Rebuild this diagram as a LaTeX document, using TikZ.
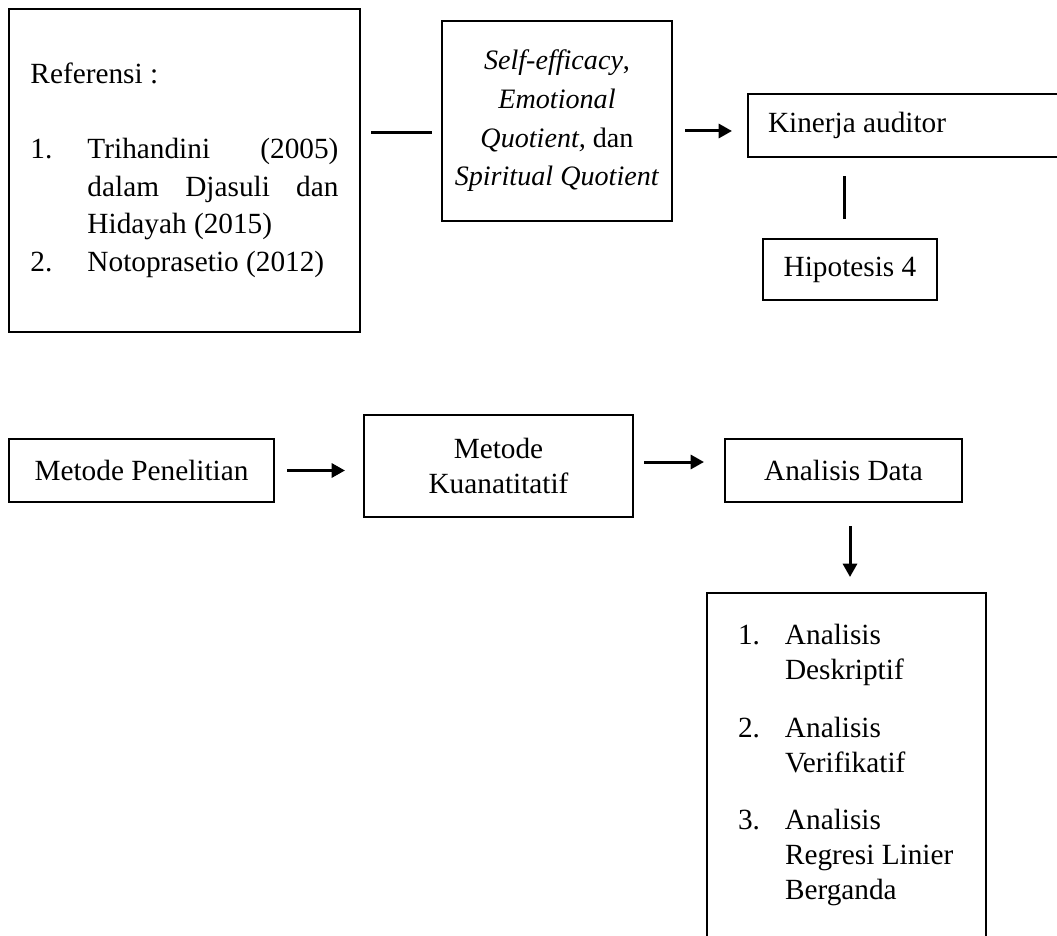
\documentclass[tikz,border=0pt]{standalone}
\usepackage{fontspec}
\setmainfont{Liberation Serif}
\usepackage{tikz}
\usetikzlibrary{arrows.meta,positioning,calc}

% numbered entry with hanging indent
\newcommand{\numitem}[3]{\par\noindent\hangindent=#1\hangafter=1\makebox[#1][l]{#2}#3}

\begin{document}
\begin{tikzpicture}[x=0.3mm, y=-0.3mm, >={Triangle[length=4mm,width=4.2mm]},
    every node/.style={font=\fontsize{25}{32}\selectfont},
    box/.style={draw, line width=0.6mm, inner sep=0pt, align=center},
    link/.style={line width=0.9mm},
    tight/.style={font=\fontsize{25}{30}\selectfont}]
    \useasboundingbox (0,0) rectangle (1057,936);

    % Top row: references, variables, auditor performance
    \node[box, minimum width=105.3mm, minimum height=96.9mm, text width=92.4mm, align=justify] (ref) at (184.5,170.5)
        {\noindent Referensi :\par\vspace{\baselineskip}
         \numitem{17.1mm}{1.}{Trihandini (2005)\linebreak dalam Djasuli dan\linebreak Hidayah (2015)}
         \numitem{17.1mm}{2.}{Notoprasetio (2012)}};
    \node[box, font=\fontsize{24}{33}\selectfont, minimum width=69mm, minimum height=60mm] (se) at (557,121)
        {\textit{Self-efficacy},\\ \textit{Emotional}\\ \textit{Quotient,} dan\\ \textit{Spiritual Quotient}};
    \node[box, minimum height=18.9mm, text width=87.6mm, inner xsep=6mm, align=flush left] (kin) at (914,125.5) {Kinerja auditor};
    \node[box, minimum width=52.2mm, minimum height=18.3mm] (hip) at (850,269.5) {Hipotesis 4};

    \coordinate (sein) at ($(se.west)+(0,12)$);
    \coordinate (seout) at ($(se.east)+(0,10)$);
    \coordinate (hipin) at ($(hip.north)+(-6,0)$);
    \draw[link, shorten <=3mm, shorten >=2.7mm] (ref.east |- sein) -- (sein);
    \draw[link, ->, shorten <=3.6mm, shorten >=4.5mm] (seout) -- (seout -| kin.west);
    \draw[link, shorten <=5.7mm, shorten >=5.4mm] (hipin) -- (hipin |- kin.south);

    % Bottom row: method and analysis
    \node[box, minimum width=79.5mm, minimum height=18.9mm] (mp) at (141.5,470.5) {Metode Penelitian};
    \node[box, tight, minimum width=80.7mm, minimum height=30.6mm] (mk) at (498.5,466) {Metode\\ Kuanatitatif};
    \node[box, minimum width=71.1mm, minimum height=18.9mm] (ad) at (843.5,470.5) {Analisis Data};
    \node[box, tight, anchor=north, minimum width=83.7mm, text width=65.1mm, inner xsep=9.3mm, inner ysep=5mm, align=flush left] (an) at (846.5,592)
        {\numitem{14.1mm}{1.}{Analisis\newline Deskriptif}\par\vspace{6.6mm}
         \numitem{14.1mm}{2.}{Analisis\newline Verifikatif}\par\vspace{6.6mm}
         \numitem{14.1mm}{3.}{Analisis\newline Regresi Linier\newline Berganda}\par
         \rule{0pt}{30mm}};

    \coordinate (mkout) at ($(mk.east)+(0,-4)$);
    \coordinate (adout) at ($(ad.south)+(6.5,0)$);
    \draw[link, ->, shorten <=3.6mm, shorten >=5.4mm] (mp.east) -- (mp.east -| mk.west);
    \draw[link, ->, shorten <=3mm, shorten >=6mm] (mkout) -- (mkout -| ad.west);
    \draw[link, ->, shorten <=6.9mm, shorten >=4.5mm] (adout) -- (adout |- an.north);
\end{tikzpicture}
\end{document}
